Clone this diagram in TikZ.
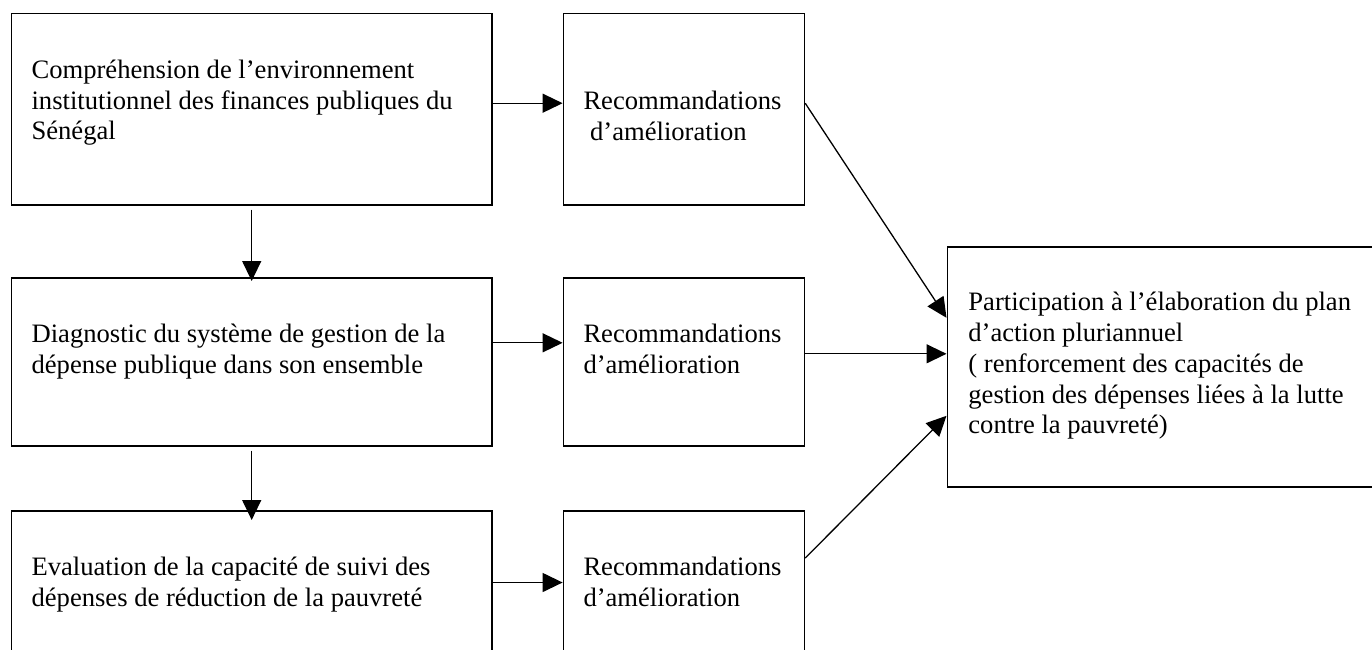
\documentclass[tikz,border=0pt]{standalone}
\usepackage{fontspec}
\setmainfont{Liberation Serif}
\usetikzlibrary{arrows.meta}
\newcommand\boxfont{\fontsize{13.3}{15.4}\selectfont}
\tikzset{box/.style={draw, line width=0.8pt, inner sep=0pt, anchor=north west},
    wide/.style={box, minimum width=240.2pt},
    narrow/.style={box, minimum width=120.5pt},
    txt/.style={anchor=base west, align=left, inner sep=0pt, font=\boxfont},
    arr/.style={-{Triangle[length=10pt,width=9.5pt]}, line width=0.65pt},
    }

\begin{document}
\begin{tikzpicture}[x=0.5pt,y=-0.5pt]
\useasboundingbox (0,0) rectangle (1372,649);
\clip (0,0) rectangle (1372,649);
% boxes
\node[wide, minimum height=95.7pt] (env) at (10.7,12.7) {};
\node[narrow, minimum height=95.7pt] (rec1) at (562.6,12.7) {};
\node[wide, minimum height=84pt] (diag) at (10.7,277) {};
\node[narrow, minimum height=84pt] (rec2) at (562.6,277) {};
\node[wide, minimum height=84pt] (eval) at (10.7,510) {};
\node[narrow, minimum height=84pt] (rec3) at (562.6,510) {};
\node[box, minimum width=219.3pt, minimum height=120pt] (plan) at (946.5,246) {};
% texts (base = last line)
\node[txt] (envT) at ([shift={(20.5,127.2)}]env.north west)
    {Compréhension de l’environnement\\institutionnel des finances publiques du\\Sénégal};
\node[txt] (rec1T) at ([shift={(20.5,127.4)}]rec1.north west)
    {Recommandations\\\hspace*{0.25em}d’amélioration};
\node[txt] (diagT) at ([shift={(20.5,96.4)}]diag.north west)
    {Diagnostic du système de gestion de la\\dépense publique dans son ensemble};
\node[txt] (rec2T) at ([shift={(20.5,96.4)}]rec2.north west)
    {Recommandations\\d’amélioration};
\node[txt] (evalT) at ([shift={(20.5,96.4)}]eval.north west)
    {Evaluation de la capacité de suivi des\\dépenses de réduction de la pauvreté};
\node[txt] (rec3T) at ([shift={(20.5,96.4)}]rec3.north west)
    {Recommandations\\d’amélioration};
\node[txt] (planT) at ([shift={(21.5,187.8)}]plan.north west)
    {Participation à l’élaboration du plan\\d’action pluriannuel\\( renforcement des capacités de\\gestion des dépenses liées à la lutte\\contre la pauvreté)};
% arrows
\draw[arr] ([yshift=3pt]env.east) -- ([yshift=3pt]rec1.west);
\draw[arr] ([yshift=9.5pt]diag.east) -- ([yshift=9.5pt]rec2.west);
\draw[arr] ([yshift=6.15pt]eval.east) -- ([yshift=6.15pt]rec3.west);
\draw[arr] ([yshift=-2pt]env.south) -- ([yshift=-2pt]diag.north);
\draw[arr] ([yshift=-2pt]diag.south) -- ([yshift=-5pt]eval.north);
\draw[arr] ([yshift=3pt]rec1.east) -- ([yshift=24.5pt]plan.west);
\draw[arr] ([yshift=4pt]rec2.east) -- ([yshift=4pt]rec2.east -| plan.west);
\draw[arr] ([yshift=18.35pt]rec3.east) -- ([yshift=-24.5pt]plan.west);
\end{tikzpicture}
\end{document}
